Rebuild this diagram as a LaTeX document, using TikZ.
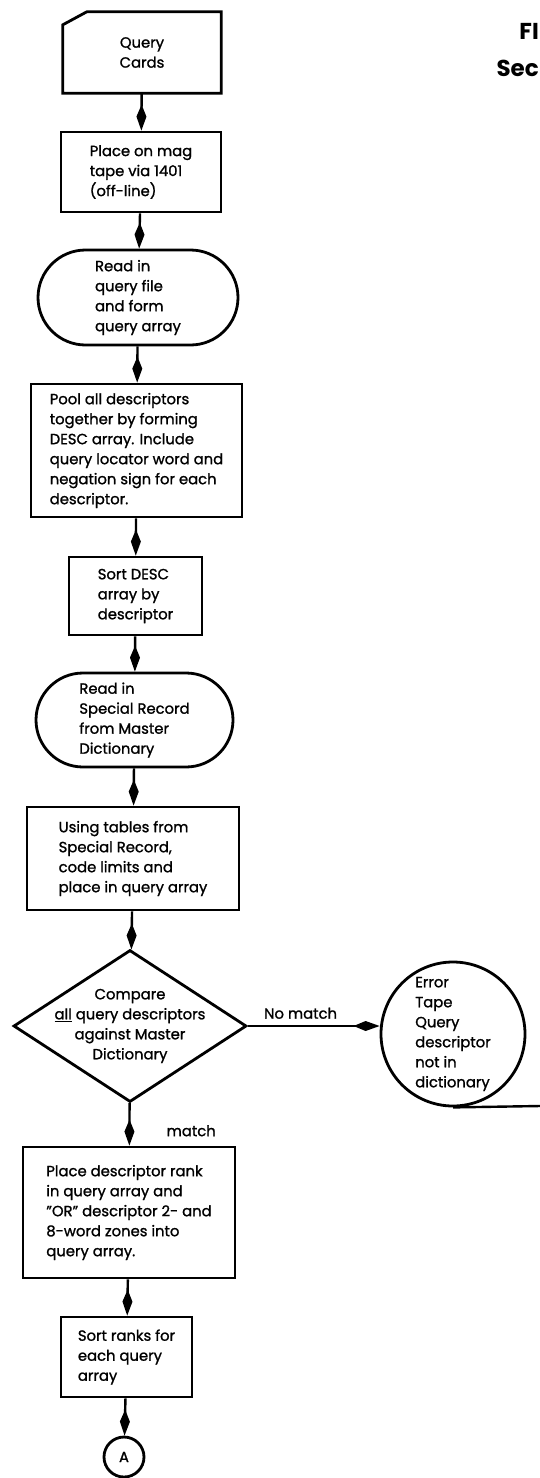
\documentclass[tikz,border=0pt]{standalone}
\usepackage{fontspec}
\setmainfont{Poppins}[UprightFeatures={FakeBold=1.2}]
\usetikzlibrary{arrows.meta, shapes.geometric, shapes.misc}

\begin{document}
\begin{tikzpicture}[x=1pt, y=-1pt,
  every node/.style={font=\fontsize{14.8}{20}\selectfont, align=left, inner sep=0pt},
  procbox/.style={draw, line width=2.8pt, rectangle},
  termbox/.style={draw, line width=2.8pt, rounded rectangle},
  decbox/.style={draw, line width=2.8pt, diamond},
  connbox/.style={draw, line width=2.8pt, circle},
  flow/.style={line width=2.4pt, -{Kite[length=26pt, width=10pt, inset=12pt]}},
  plainline/.style={line width=2.4pt},
  lbl/.style={font=\fontsize{14.8}{16}\selectfont},
  headtext/.style={font=\fontsize{23}{28}\selectfont\bfseries, anchor=east}]
\useasboundingbox (0,0) rectangle (540,1478);

% heading, at the right edge
\node[headtext] (fighead) at (539,31) {FI};
\node[headtext] (sechead) at (539,68) {Sec};

% main column
\node[minimum width=158pt, minimum height=81pt, align=center] (cards) at (142,52.5) {Query\\Cards};
\draw[line width=2.8pt] (cards.north west) ++(0,13) -- ++(24,-13) -- (cards.north east)
  -- (cards.south east) -- (cards.south west) -- cycle;
\node[procbox, minimum width=160pt, minimum height=80pt] (tape) at (141,172)
  {Place on mag\\tape via 1401\\(off-line)};
\node[termbox, minimum width=200pt, minimum height=95pt] (readq) at (138,297.5)
  {Read in\\query file\\and form\\query array};
\node[procbox, minimum width=211pt, minimum height=133pt] (pool) at (136.5,450.5)
  {Pool all descriptors\\together by forming\\DESC array. Include\\query locator word and\\negation sign for each\\descriptor.};
\node[procbox, minimum width=133pt, minimum height=78pt] (sortd) at (135.5,596)
  {Sort DESC\\array by\\descriptor};
\node[termbox, minimum width=197pt, minimum height=94pt] (readsp) at (134.5,720)
  {Read in\\Special Record\\from Master\\Dictionary};
\node[procbox, minimum width=212pt, minimum height=103pt] (tables) at (133,858.5)
  {Using tables from\\Special Record,\\code limits and\\place in query array};
\node[decbox, minimum width=233pt, minimum height=152pt] (cmp) at (130,1026) {};
\node[align=center] (cmptext) at (cmp.center)
  {Compare\\\underline{all} query descriptors\\against Master\\Dictionary};
\node[connbox, minimum size=144pt] (err) at (453,1034)
  {Error\\Tape\\Query\\descriptor\\not in\\dictionary};
\node[procbox, minimum width=212pt, minimum height=131pt] (rank) at (129,1212.5)
  {Place descriptor rank\\in query array and\\\symbol{34}OR\symbol{34} descriptor 2- and\\8-word zones into\\query array.};
\node[procbox, minimum width=131pt, minimum height=80pt] (sortr) at (126.5,1357)
  {Sort ranks for\\each query\\array};
\node[connbox, minimum size=40pt, align=center] (conA) at (124,1457) {A};
\coordinate (exitR) at (540,1106);

\draw[flow] (cards) -- (tape);
\draw[flow] (tape) -- (readq);
\draw[flow] (readq) -- (pool);
\draw[flow] (pool) -- (sortd);
\draw[flow] (sortd) -- (readsp);
\draw[flow] (readsp) -- (tables);
\draw[flow] (tables) -- (cmp);
\draw[flow] (cmp.east) -- node[lbl, above=6pt, pos=0.4] {No match} (cmp.east -| err.west);
\draw[flow] (cmp) -- node[lbl, pos=0.65, anchor=west, xshift=36pt] {match} (rank);
\draw[flow] (rank) -- (sortr);
\draw[flow] (sortr) -- (conA);
\draw[plainline] (err.south) -- (exitR);
\end{tikzpicture}
\end{document}
